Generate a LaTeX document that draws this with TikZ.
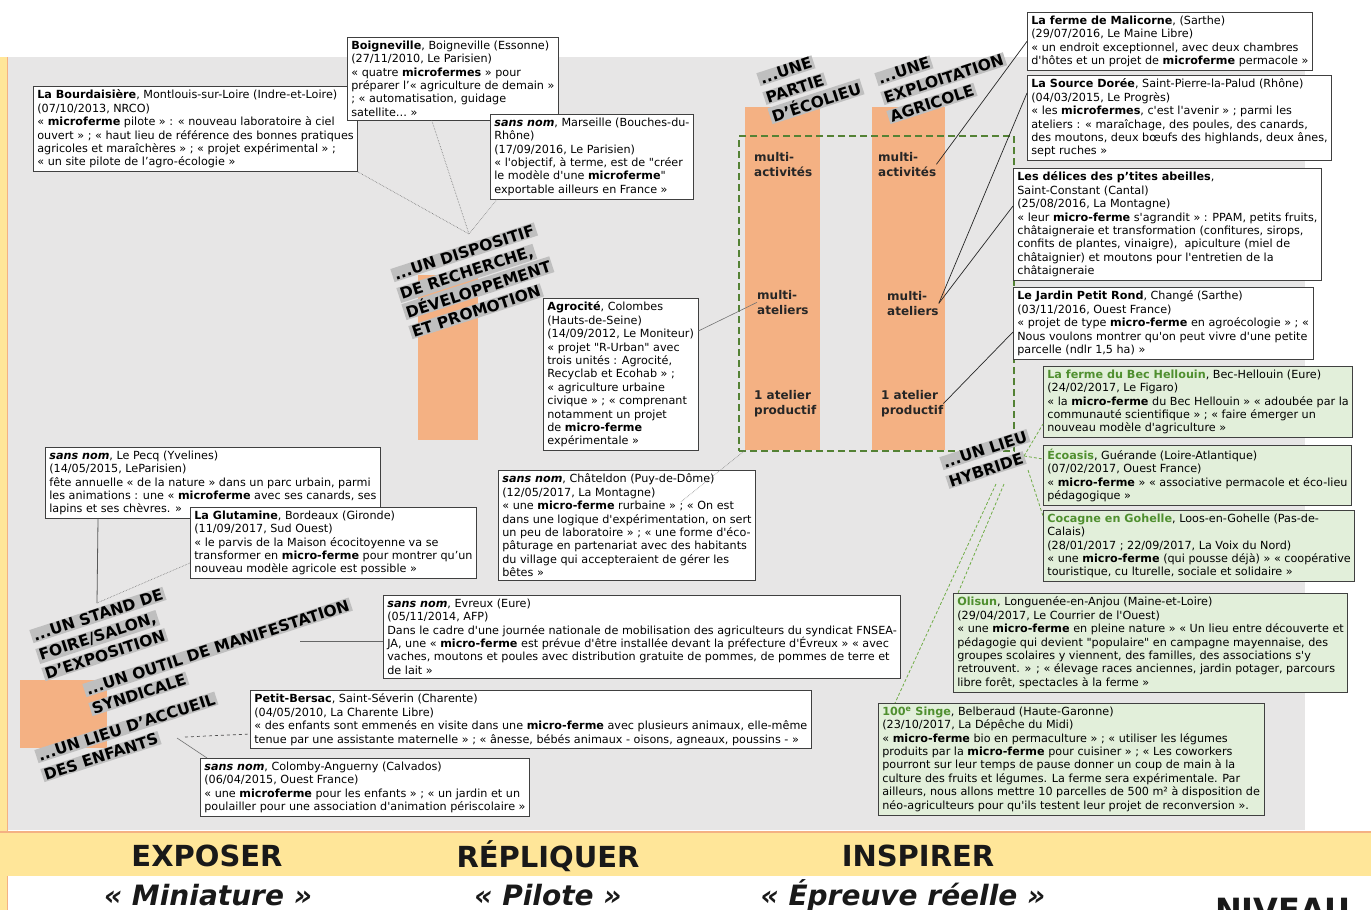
\documentclass[tikz,border=0pt]{standalone}
\usepackage{fontspec}
\setmainfont{DejaVu Sans}[Ligatures=TeXOff]
\usetikzlibrary{calc}
\definecolor{bgray}{HTML}{E7E6E6}
\definecolor{barc}{HTML}{F4B183}
\definecolor{labc}{HTML}{BFBFBF}
\definecolor{gfill}{HTML}{E2EFDA}
\definecolor{gtitle}{HTML}{4F8F2F}
\definecolor{gdash}{HTML}{548235}
\definecolor{glinkc}{HTML}{70AD47}
\definecolor{bandc}{HTML}{FFE699}
\definecolor{bandline}{HTML}{F4B183}
\tikzset{
 card/.style={draw=black!75, line width=0.7pt, fill=white, anchor=north west, align=left, inner xsep=4pt, inner ysep=3.5pt, font=\fontsize{11.2}{13.4}\selectfont},
 gcard/.style={card, fill=gfill},
 lab/.style={fill=labc, anchor=base west, rotate=18, inner xsep=2pt, inner ysep=1pt, font=\fontsize{15.5}{18}\selectfont\bfseries, text=black},
 bartxt/.style={anchor=north west, align=left, inner sep=0pt, font=\fontsize{12}{15}\selectfont\bfseries, text=black!85},
 barbox/.style={fill=barc, draw=none, anchor=north west, inner sep=0pt},
 link/.style={draw=black!55, line width=0.6pt},
 dotlink/.style={link, densely dotted},
 blink/.style={draw=black!85, line width=0.7pt},
 glink/.style={draw=glinkc, line width=0.8pt, dash pattern=on 3pt off 2pt},
 bigword/.style={font=\fontsize{29}{31}\selectfont\bfseries, text=black!90, inner sep=0pt},
 bigital/.style={font=\fontsize{28}{30}\selectfont\bfseries\itshape, text=black!90, inner sep=0pt},
}
\begin{document}
\begin{tikzpicture}[x=1pt,y=-1pt]
\useasboundingbox (0,0) rectangle (1371,910);
% backgrounds
\fill[bgray] (8,57) rectangle (1305,830);
\fill[bandc] (0,57) rectangle (7,910);
\draw[bandline, line width=1.5pt] (7.5,57) -- (7.5,910);
% bars
\node[barbox, minimum width=60pt, minimum height=165pt] (bar1) at (418,275) {};
\node[barbox, minimum width=75pt, minimum height=343pt] (bar2) at (745,107) {};
\node[barbox, minimum width=73pt, minimum height=343pt] (bar3) at (872,107) {};
\node[barbox, minimum width=87pt, minimum height=68pt] (bar4) at (20,680) {};
\node[draw=gdash, line width=2pt, dash pattern=on 7pt off 4pt, anchor=north west, minimum width=275pt, minimum height=315pt, inner sep=0pt] (hybr) at (738,135) {};
% bar texts
\node[bartxt] (macts2) at (754,152) {multi-\\activités};
\node[bartxt] (mat2) at (757,290) {multi-\\ateliers};
\node[bartxt] (prod2) at (754,390) {1 atelier\\productif};
\node[bartxt] (macts3) at (878,152) {multi-\\activités};
\node[bartxt] (mat3) at (887,291) {multi-\\ateliers};
\node[bartxt] (prod3) at (881,390) {1 atelier\\productif};
% cards
\node[card] (bourd) at (33,86) {\textbf{La Bourdaisière}, Montlouis-sur-Loire (Indre-et-Loire)\\
(07/10/2013, NRCO)\\
« \textbf{microferme} pilote » : « nouveau laboratoire à ciel\\
ouvert » ; « haut lieu de référence des bonnes pratiques\\
agricoles et maraîchères » ; « projet expérimental » ;\\
« un site pilote de l’agro-écologie »};
\node[card] (boig) at (347,37) {\textbf{Boigneville}, Boigneville (Essonne)\\
(27/11/2010, Le Parisien)\\
« quatre \textbf{microfermes} » pour\\
préparer l’« agriculture de demain »\\
; « automatisation, guidage\\
satellite… »};
\node[card] (mars) at (490,114) {\textbf{\textit{sans nom}}, Marseille (Bouches-du-\\
Rhône)\\
(17/09/2016, Le Parisien)\\
« l'objectif, à terme, est de "créer\\
le modèle d'une \textbf{microferme}"\\
exportable ailleurs en France »};
\node[card] (malic) at (1027,12) {\textbf{La ferme de Malicorne}, (Sarthe)\\
(29/07/2016, Le Maine Libre)\\
« un endroit exceptionnel, avec deux chambres\\
d'hôtes et un projet de \textbf{microferme} permacole »};
\node[card] (sdoree) at (1027,75) {\textbf{La Source Dorée}, Saint-Pierre-la-Palud (Rhône)\\
(04/03/2015, Le Progrès)\\
« les \textbf{microfermes}, c'est l'avenir » ; parmi les\\
ateliers : « maraîchage, des poules, des canards,\\
des moutons, deux bœufs des highlands, deux ânes,\\
sept ruches »};
\node[card] (deli) at (1013,168) {\textbf{Les délices des p’tites abeilles},\\
Saint-Constant (Cantal)\\
(25/08/2016, La Montagne)\\
« leur \textbf{micro-ferme} s'agrandit » : PPAM, petits fruits,\\
châtaigneraie et transformation (confitures, sirops,\\
confits de plantes, vinaigre),~ apiculture (miel de\\
châtaignier) et moutons pour l'entretien de la\\
châtaigneraie};
\node[card] (jardin) at (1013,287) {\textbf{Le Jardin Petit Rond}, Changé (Sarthe)\\
(03/11/2016, Ouest France)\\
« projet de type \textbf{micro-ferme} en agroécologie » ; «\\
Nous voulons montrer qu'on peut vivre d'une petite\\
parcelle (ndlr 1,5 ha) »};
\node[gcard] (bec) at (1043,366) {\textcolor{gtitle}{\textbf{La ferme du Bec Hellouin}}, Bec-Hellouin (Eure)\\
(24/02/2017, Le Figaro)\\
« la \textbf{micro-ferme} du Bec Hellouin » « adoubée par la\\
communauté scientifique » ; « faire émerger un\\
nouveau modèle d'agriculture »};
\node[gcard] (ecoa) at (1043,445) {\textcolor{gtitle}{\textbf{Écoasis}}, Guérande (Loire-Atlantique)\\
(07/02/2017, Ouest France)\\
« \textbf{micro-ferme} » « associative permacole et éco-lieu\\
pédagogique »};
\node[gcard] (coca) at (1043,510) {\textcolor{gtitle}{\textbf{Cocagne en Gohelle}}, Loos-en-Gohelle (Pas-de-\\
Calais)\\
(28/01/2017 ; 22/09/2017, La Voix du Nord)\\
« une \textbf{micro-ferme} (qui pousse déjà) » « coopérative\\
touristique, cu lturelle, sociale et solidaire »};
\node[gcard] (olis) at (953,593) {\textcolor{gtitle}{\textbf{Olisun}}, Longuenée-en-Anjou (Maine-et-Loire)\\
(29/04/2017, Le Courrier de l'Ouest)\\
« une \textbf{micro-ferme} en pleine nature » « Un lieu entre découverte et\\
pédagogie qui devient "populaire" en campagne mayennaise, des\\
groupes scolaires y viennent, des familles, des associations s'y\\
retrouvent. » ; « élevage races anciennes, jardin potager, parcours\\
libre forêt, spectacles à la ferme »};
\node[gcard] (singe) at (878,703) {\textcolor{gtitle}{\textbf{100\textsuperscript{e} Singe}}, Belberaud (Haute-Garonne)\\
(23/10/2017, La Dépêche du Midi)\\
« \textbf{micro-ferme} bio en permaculture » ; « utiliser les légumes\\
produits par la \textbf{micro-ferme} pour cuisiner » ; « Les coworkers\\
pourront sur leur temps de pause donner un coup de main à la\\
culture des fruits et légumes. La ferme sera expérimentale. Par\\
ailleurs, nous allons mettre 10 parcelles de 500 m² à disposition de\\
néo-agriculteurs pour qu'ils testent leur projet de reconversion ».};
\node[card] (agro) at (543,298) {\textbf{Agrocité}, Colombes\\
(Hauts-de-Seine)\\
(14/09/2012, Le Moniteur)\\
« projet "R-Urban" avec\\
trois unités : Agrocité,\\
Recyclab et Ecohab » ;\\
« agriculture urbaine\\
civique » ; « comprenant\\
notamment un projet\\
de \textbf{micro-ferme}\\
expérimentale »};
\node[card] (pecq) at (45,447) {\textbf{\textit{sans nom}}, Le Pecq (Yvelines)\\
(14/05/2015, LeParisien)\\
fête annuelle « de la nature » dans un parc urbain, parmi\\
les animations : une « \textbf{microferme} avec ses canards, ses\\
lapins et ses chèvres. »};
\node[card] (glut) at (190,507) {\textbf{La Glutamine}, Bordeaux (Gironde)\\
(11/09/2017, Sud Ouest)\\
« le parvis de la Maison écocitoyenne va se\\
transformer en \textbf{micro-ferme} pour montrer qu’un\\
nouveau modèle agricole est possible »};
\node[card] (chat) at (498,470) {\textbf{\textit{sans nom}}, Châteldon (Puy-de-Dôme)\\
(12/05/2017, La Montagne)\\
« une \textbf{micro-ferme} rurbaine » ; « On est\\
dans une logique d'expérimentation, on sert\\
un peu de laboratoire » ; « une forme d'éco-\\
pâturage en partenariat avec des habitants\\
du village qui accepteraient de gérer les\\
bêtes »};
\node[card] (evr) at (383,595) {\textbf{\textit{sans nom}}, Evreux (Eure)\\
(05/11/2014, AFP)\\
Dans le cadre d'une journée nationale de mobilisation des agriculteurs du syndicat FNSEA-\\
JA, une « \textbf{micro-ferme} est prévue d'être installée devant la préfecture d'Évreux » « avec\\
vaches, moutons et poules avec distribution gratuite de pommes, de pommes de terre et\\
de lait »};
\node[card] (pb) at (250,690) {\textbf{Petit-Bersac}, Saint-Séverin (Charente)\\
(04/05/2010, La Charente Libre)\\
« des enfants sont emmenés en visite dans une \textbf{micro-ferme} avec plusieurs animaux, elle-même\\
tenue par une assistante maternelle » ; « ânesse, bébés animaux - oisons, agneaux, poussins - »};
\node[card] (colo) at (200,758) {\textbf{\textit{sans nom}}, Colomby-Anguerny (Calvados)\\
(06/04/2015, Ouest France)\\
« une \textbf{microferme} pour les enfants » ; « un jardin et un\\
poulailler pour une association d'animation périscolaire »};
% connectors
\coordinate (hubRD) at (469,234);
\draw[dotlink] (bourd.south east) -- (hubRD);
\draw[dotlink] ($(boig.south west)!0.4!(boig.south east)$) -- (hubRD);
\draw[dotlink] ([xshift=7pt]mars.south west) -- (hubRD);
\draw[link] ([yshift=-33pt]agro.north east) -- (mat2.west);
\draw[dotlink] ([xshift=-75pt,yshift=-32pt]chat.north east) -- (bar2.south west);
\draw[blink] (malic.west) -- (macts3.east);
\draw[blink] ([yshift=-18pt]sdoree.north west) -- (mat3.east);
\draw[blink] ([yshift=-38pt]deli.north west) -- (mat3.east);
\draw[blink] ([yshift=-45pt]jardin.north west) -- (prod3.east);
\coordinate (hyA) at (1024,456);
\coordinate (hyB) at (1028,470);
\coordinate (hyC) at (1004,484);
\coordinate (hyD) at (996,484);
\draw[glink] (hyA) -- ([yshift=-58pt]bec.north west);
\draw[glink] (hyA) -- ([yshift=-14pt]ecoa.north west);
\draw[glink] (hyB) -- ([yshift=-6pt]coca.north west);
\draw[glink] (hyC) -- ([xshift=5pt]olis.north west);
\draw[glink] (hyD) -- ([xshift=17pt]singe.north west);
\coordinate (hubST) at (97,603);
\draw[draw=black!65, line width=0.8pt] ([xshift=53pt]pecq.south west) -- (hubST);
\draw[dotlink] ([yshift=-56pt]glut.north west) -- (hubST);
\coordinate (evrS) at (300,641);
\draw[draw=black!60, line width=0.9pt] (evrS) -- (evrS -| evr.west);
\coordinate (pbS) at (185,737);
\draw[draw=black!70, line width=0.7pt, dashed] (pbS) -- ([yshift=-44pt]pb.north west);
\coordinate (coS) at (177,738);
\draw[link] (coS) -- ([xshift=7pt]colo.north west);
% labels
\node[lab] (lrd1) at (394,281) {...UN DISPOSITIF};
\node[lab] (lrd2) at (400,300) {DE RECHERCHE,};
\node[lab] (lrd3) at (406,319) {DÉVELOPPEMENT};
\node[lab] (lrd4) at (412,338) {ET PROMOTION};
\node[lab] (lec1) at (760,85) {...UNE};
\node[lab] (lec2) at (766,104) {PARTIE};
\node[lab] (lec3) at (772,123) {D’ÉCOLIEU};
\node[lab] (lex1) at (878,85) {...UNE};
\node[lab] (lex2) at (884,104) {EXPLOITATION};
\node[lab] (lex3) at (890,123) {AGRICOLE};
\node[lab] (lst1) at (33,642) {...UN STAND DE};
\node[lab] (lst2) at (39,661) {FOIRE/SALON,};
\node[lab] (lst3) at (45,680) {D’EXPOSITION};
\node[lab] (lou1) at (86,696) {...UN OUTIL DE MANIFESTATION};
\node[lab] (lou2) at (92,715) {SYNDICALE};
\node[lab] (lac1) at (38,762) {...UN LIEU D’ACCUEIL};
\node[lab] (lac2) at (44,781) {DES ENFANTS};
\node[lab] (lhy1) at (943,469) {...UN LIEU};
\node[lab] (lhy2) at (949,488) {HYBRIDE};
% bottom band
\fill[bandc] (0,832) rectangle (1371,876);
\draw[bandline, line width=2pt] (0,832) -- (1371,832);
\node[bigword] (exposer) at (207,856) {EXPOSER};
\node[bigword] (repliquer) at (548,856) {RÉPLIQUER};
\node[bigword] (inspirer) at (918,856) {INSPIRER};
\node[bigital] (mini) at (208,895) {« Miniature »};
\node[bigital] (pilote) at (548,895) {« Pilote »};
\node[bigital] (epreuve) at (903,895) {« Épreuve réelle »};
\node[bigword, anchor=north west, font=\fontsize{32}{34}\selectfont\bfseries] (niveau) at (1215,898) {NIVEAU};
\end{tikzpicture}
\end{document}
